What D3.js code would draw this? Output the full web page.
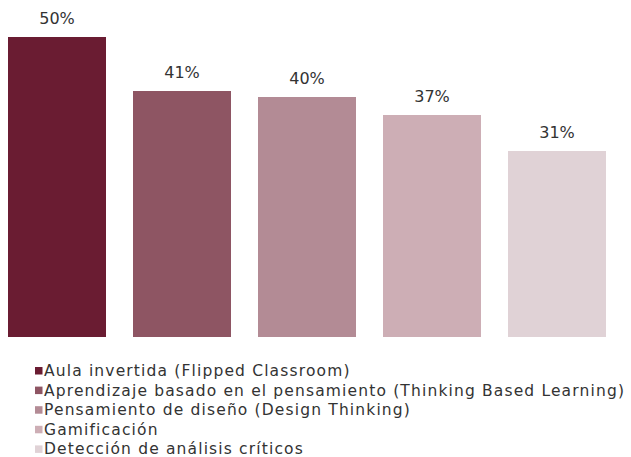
<!DOCTYPE html>
<html><head><meta charset="utf-8">
<script src="https://cdn.jsdelivr.net/npm/d3@7"></script>
<style>body{margin:0;background:#fff;}svg{display:block;font-family:"DejaVu Sans",sans-serif;}</style>
</head><body>
<svg id="c" width="631" height="457"></svg>
<script>
const categories = ["Aula invertida (Flipped Classroom)","Aprendizaje basado en el pensamiento (Thinking Based Learning)","Pensamiento de diseño (Design Thinking)","Gamificación","Detección de análisis críticos"];
const values = [50, 41, 40, 37, 31];
const colors = ["#6a1c32","#8e5563","#b38b95","#cdaeb5","#e0d2d6"];

const svg = d3.select("#c");
const x = d3.scaleBand().domain(categories).range([8, 606]).paddingInner(0.216).paddingOuter(0);
const y = d3.scaleLinear().domain([0, 50]).range([337, 37]);

svg.selectAll("rect.bar").data(values).join("rect").attr("class","bar")
  .attr("x",(d,i)=>x(categories[i])).attr("width",x.bandwidth())
  .attr("y",d=>y(d)).attr("height",d=>y(0)-y(d)).attr("fill",(d,i)=>colors[i]);

svg.selectAll("text.lbl").data(values).join("text").attr("class","lbl")
  .attr("x",(d,i)=>x(categories[i])+x.bandwidth()/2).attr("y",d=>y(d)-13)
  .attr("text-anchor","middle").attr("font-size",16).attr("fill","#333")
  .text(d=>d+"%");

const lg = svg.append("g");
const rows = lg.selectAll("g").data(categories).join("g")
  .attr("transform",(d,i)=>`translate(35,${370.5+i*19.6})`);
rows.append("rect").attr("x",0).attr("y",-3.5).attr("width",7.5).attr("height",7.5).attr("fill",(d,i)=>colors[i]);
rows.append("text").attr("x",9).attr("y",5.5).attr("font-size",15.5).attr("letter-spacing",1.15).attr("fill","#333").text(d=>d);
</script>
</body></html>
